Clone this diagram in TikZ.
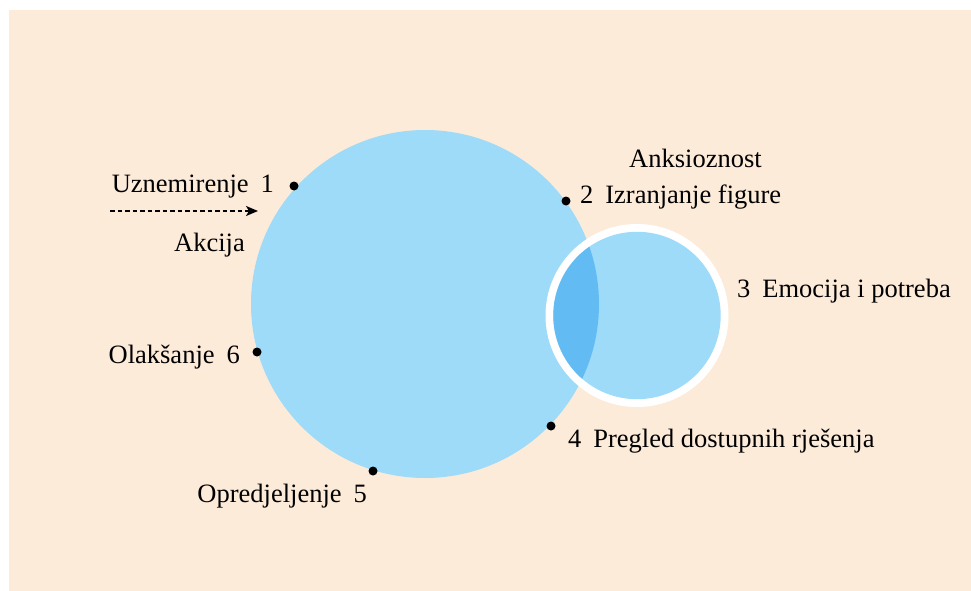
\documentclass[tikz,border=0pt]{standalone}
\usepackage{fontspec}
\setmainfont{Liberation Serif}
\usetikzlibrary{arrows.meta}
\definecolor{bg}{HTML}{FDEBDA}
\definecolor{lblue}{HTML}{9DDBF8}
\definecolor{dblue}{HTML}{62BCF3}
\tikzset{
  lbl/.style={inner sep=0pt,font=\fontsize{26.5}{30}\selectfont},
  pt/.style={circle,fill=black,inner sep=0pt,minimum size=9pt},
}
\newcommand{\gap}{\hspace{0.45em}}
\begin{document}
\begin{tikzpicture}[x=1pt,y=1pt]
\useasboundingbox (0,0) rectangle (971,-591);
\fill[white] (0,0) rectangle (971,-591);
\fill[bg] (9,-10) rectangle (971,-591);
% big circle
\coordinate (C) at (425,-304);
\fill[lblue] (C) circle[radius=174];
% small circle with white ring
\coordinate (S) at (637,-315.5);
\fill[white] (S) circle[radius=91.5];
\fill[lblue] (S) circle[radius=83.7];
\begin{scope}
  \clip (S) circle[radius=83.7];
  \fill[dblue] (C) circle[radius=174];
\end{scope}
% points on the big circle
\node[pt] (p1) at (294,-186) {};
\node[pt] (p2) at (566,-201) {};
\node[pt] (p4) at (551,-426) {};
\node[pt] (p5) at (373,-471) {};
\node[pt] (p6) at (257,-352) {};
% labels
\node[lbl,anchor=base east] (t1) at (274,-192.5) {Uznemirenje\gap 1};
\node[lbl,anchor=base west] (t2) at (580,-203.5) {2\gap Izranjanje figure};
\node[lbl,anchor=base west] (anx) at (629,-167.5) {Anksioznost};
\node[lbl,anchor=base west] (t3) at (737,-297.5) {3\gap Emocija i potreba};
\node[lbl,anchor=base west] (t4) at (568,-447.5) {4\gap Pregled dostupnih rješenja};
\node[lbl,anchor=base east] (t5) at (367,-502.5) {Opredjeljenje\gap 5};
\node[lbl,anchor=base east] (t6) at (240,-363.5) {Olakšanje\gap 6};
\node[lbl,anchor=base west] (akc) at (174,-251.5) {Akcija};
% dashed arrow
\coordinate (a0) at (110,-211);
\coordinate (a1) at (258,-211);
\draw[line width=1.6pt,dash pattern=on 4.5pt off 3pt,-{Stealth[length=12pt,width=10pt,inset=3pt]}] (a0) -- (a1);
\end{tikzpicture}
\end{document}
